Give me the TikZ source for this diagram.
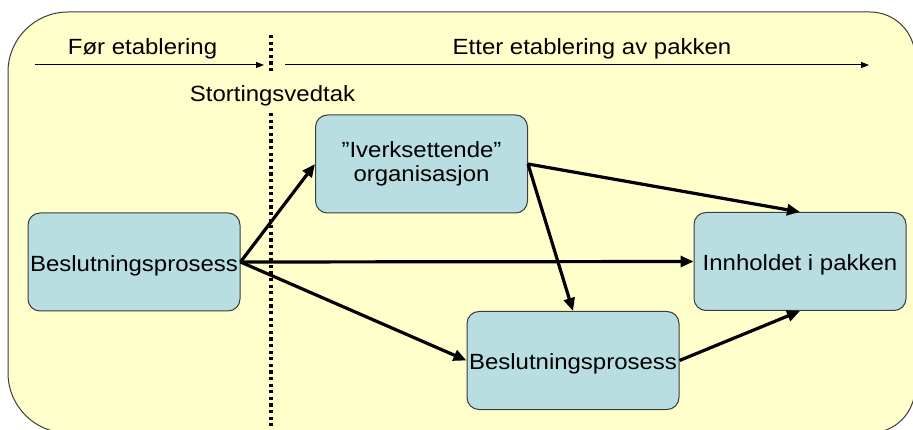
\documentclass[tikz,border=0pt]{standalone}
\usepackage{fontspec}
\setmainfont{Liberation Sans}[FakeStretch=1.09]
\usetikzlibrary{arrows.meta}

\definecolor{paneyellow}{RGB}{255,255,204}
\definecolor{boxblue}{RGB}{185,222,226}
\definecolor{edgegray}{RGB}{60,60,60}

\tikzset{
  phase/.style={draw=black, line width=1pt, -{Triangle[length=8pt,width=6pt]}},
  flow/.style={draw=black, line width=3.2pt, -{Triangle[length=13pt,width=11pt]}},
  divider/.style={draw=black, line width=4pt, dash pattern=on 3.3pt off 3.3pt},
  procbox/.style={draw=edgegray, line width=1pt, fill=boxblue, rounded corners=12pt,
    minimum width=212pt, minimum height=98pt, inner xsep=0pt, align=center,
    font=\fontsize{22}{24.4}\selectfont},
  oneline/.style={text height=19pt, text depth=0pt},
  caption/.style={font=\fontsize{22}{24.4}\selectfont, inner sep=0pt, anchor=base}
}

\begin{document}
\begin{tikzpicture}[x=1pt, y=-1pt]
  \useasboundingbox (0,0) rectangle (913,430);
  \fill[white] (0,0) rectangle (913,430);
  \begin{scope}
    \clip (0,0) rectangle (913,430);
    % rounded panel behind the whole diagram
    \draw[edgegray, line width=1pt, fill=paneyellow]
      (8,72) arc[start angle=180, end angle=270, radius=60]
      -- (870,12) arc[start angle=270, end angle=360, radius=45]
      -- (915,388) arc[start angle=0, end angle=90, radius=45]
      -- (68,433) arc[start angle=90, end angle=180, radius=60]
      -- cycle;
  \end{scope}

  % time line
  \coordinate (t0) at (35,65);
  \coordinate (t1) at (264,65);
  \coordinate (t2) at (285,65);
  \coordinate (t3) at (869,65);
  \draw[phase] (t0) -- (t1);
  \draw[phase] (t2) -- (t3);
  \node[caption] (before) at (142.5,55) {Før etablering};
  \node[caption] (after) at (592,55) {Etter etablering av pakken};

  % decision line
  \node[caption] (vedtak) at (272.5,102) {Stortingsvedtak};
  \coordinate (d0) at (270.5,35);
  \coordinate (d1) at (270.5,71);
  \coordinate (d2) at (270.5,113);
  \coordinate (d3) at (270.5,433);
  \draw[divider] (d0) -- (d1);
  \draw[divider] (d2) -- (d3);

  % process boxes
  \node[procbox, oneline] (b1) at (134,262) {Beslutningsprosess};
  \node[procbox] (iv) at (421.5,164) {”Iverksettende”\\organisasjon};
  \node[procbox, oneline] (b2) at (573,360.5) {Beslutningsprosess};
  \node[procbox, oneline] (inn) at (800,261.5) {Innholdet i pakken};

  % relations
  \draw[flow] (b1.east) -- (iv.west);
  \draw[flow] (b1.east) -- (inn.west);
  \draw[flow] (b1.east) -- (b2.west);
  \draw[flow] (iv.east) -- (inn.north);
  \draw[flow] (iv.east) -- (b2.north);
  \draw[flow] (b2.east) -- (inn.south);
\end{tikzpicture}
\end{document}
